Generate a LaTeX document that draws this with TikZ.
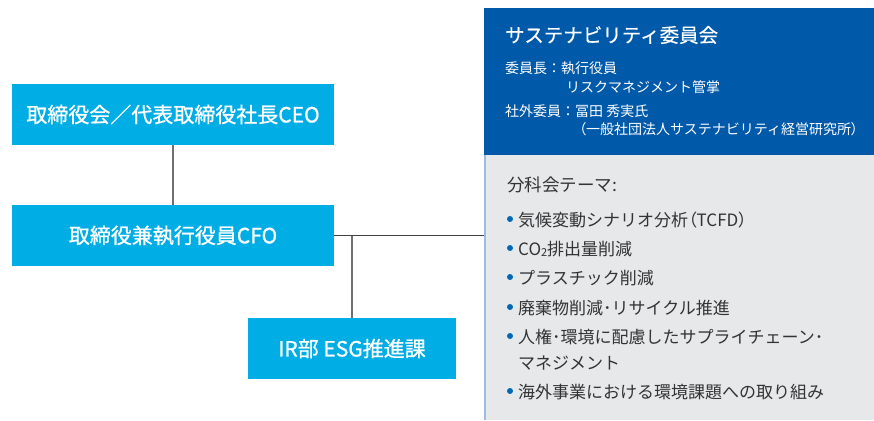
\documentclass[tikz,border=0pt]{standalone}
\usepackage{fontspec}
\setmainfont{Noto Sans CJK JP}
\newfontfamily\boxfont[FakeBold=0.9]{Noto Sans CJK JP}
\newfontfamily\titlefont[FakeBold=0.5]{Noto Sans CJK JP}
\newcommand{\pl}[1]{{\addfontfeature{RawFeature=+palt}#1}}
\definecolor{boxcyan}{HTML}{00ADE5}
\definecolor{panelblue}{HTML}{0059A9}
\definecolor{panelgrey}{HTML}{E7E8EA}
\definecolor{edgeblue}{HTML}{9DBCE0}
\definecolor{dotblue}{HTML}{0068B7}
\definecolor{txtgrey}{HTML}{333333}
\definecolor{linegrey}{HTML}{707070}
\definecolor{linedark}{HTML}{404040}
\tikzset{
  orgbox/.style={fill=boxcyan, draw=none, text=white, inner sep=0pt,
    minimum height=61pt, font=\boxfont\fontsize{21}{24}\selectfont},
  vline/.style={draw=linegrey, line width=1.2pt},
  hline/.style={draw=linedark, line width=1pt},
  wtxt/.style={anchor=west, text=white, inner sep=0pt, font=\fontsize{14}{16}\selectfont},
  gtxt/.style={anchor=west, text=txtgrey, inner sep=0pt, font=\fontsize{17}{20}\selectfont},
  bdot/.style={circle, fill=dotblue, inner sep=0pt, minimum size=6pt},
}
\begin{document}
\begin{tikzpicture}[x=1pt, y=-1pt]
\useasboundingbox (0,0) rectangle (874,420);
% right panels
\fill[panelblue] (484,8) rectangle (874,155);
\fill[panelgrey] (484,155) rectangle (874,420);
\draw[edgeblue, line width=2pt] (485,155) -- (485,420);
% boxes
\node[orgbox, minimum width=322pt] (ceo) at (173,114.5) {取締役会／代表取締役社長CEO};
\node[orgbox, minimum width=322pt] (cfo) at (173,235.5) {取締役兼執行役員CFO};
\node[orgbox, minimum width=208pt] (ir) at (352,348.5) {IR部 ESG推進課};
\coordinate (pj) at (484,235.5);
\coordinate (br) at (352,235.5);
% connectors
\draw[vline] (ceo.south) -- (cfo.north);
\draw[hline] (cfo.east) -- (pj);
\draw[vline] (br) -- (ir.north);
% blue panel text
\node[wtxt, font=\titlefont\fontsize{19.5}{23}\selectfont] (title) at (505,35) {サステナビリティ委員会};
\node[wtxt] (chair1) at (505,68) {委員長：執行役員};
\node[wtxt] (chair2) at (566,87) {リスクマネジメント管掌};
\node[wtxt] (ext1) at (505,111) {社外委員：冨田 秀実氏};
\node[wtxt] (ext2) at (579,129.5) {\pl{（}一般社団法人サステナビリティ経営研究所\pl{）}};
% grey panel text
\node[gtxt, font=\fontsize{17.5}{20}\selectfont] (theme) at (507,185) {分科会テーマ:};
\node[bdot] (d1) at (510,219) {};
\node[gtxt] (t1) at (518,220) {気候変動シナリオ分析\pl{（}TCFD\pl{）}};
\node[bdot] (d2) at (510,248) {};
\node[gtxt] (t2) at (518,249) {CO\raisebox{-0.15ex}{\fontsize{11}{12}\selectfont 2}排出量削減};
\node[bdot] (d3) at (510,277) {};
\node[gtxt] (t3) at (518,278) {プラスチック削減};
\node[bdot] (d4) at (510,307) {};
\node[gtxt] (t4) at (518,308) {廃棄物削減･リサイクル推進};
\node[bdot] (d5) at (510,336) {};
\node[gtxt] (t5) at (518,337) {人権･環境に配慮したサプライチェーン･};
\node[gtxt] (t5b) at (518,363) {マネジメント};
\node[bdot] (d6) at (510,391) {};
\node[gtxt] (t6) at (518,392) {海外事業における環境課題への取り組み};
\end{tikzpicture}
\end{document}
